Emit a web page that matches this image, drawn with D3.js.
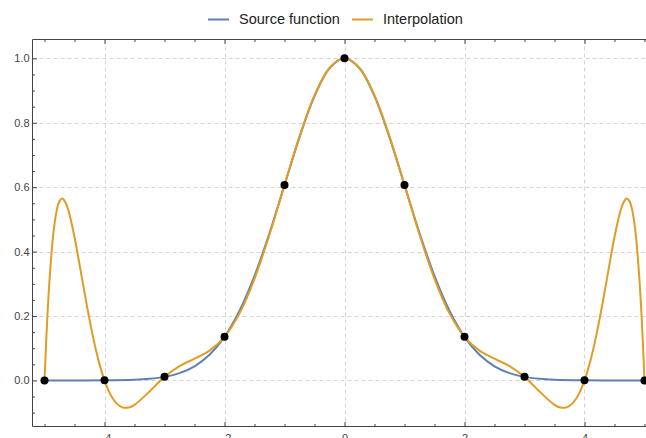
<!DOCTYPE html>
<html>
<head>
<meta charset="utf-8">
<script src="https://cdn.jsdelivr.net/npm/d3@7"></script>
<style>
  body { margin: 0; background: #fff; }
  svg { display: block; font-family: "Liberation Sans", Arial, sans-serif; }
</style>
</head>
<body>
<script>
// series names
var seriesNames = ["Source function", "Interpolation"];
var seriesColors = ["#5e81b5", "#e19c24"];

// source function
var sourceX = [-5, -4.5, -4, -3.5, -3.25, -3, -2.75, -2.5, -2.25, -2, -1.75, -1.5, -1.25, -1, -0.75, -0.5, -0.25,
               0, 0.25, 0.5, 0.75, 1, 1.25, 1.5, 1.75, 2, 2.25, 2.5, 2.75, 3, 3.25, 3.5, 4, 4.5, 5];
var sourceY = [0.0000, 0.0000, 0.0003, 0.0022, 0.0051, 0.0111, 0.0228, 0.0439, 0.0796, 0.1353, 0.2163, 0.3247, 0.4578, 0.6065, 0.7548, 0.8825, 0.9692,
               1.0000, 0.9692, 0.8825, 0.7548, 0.6065, 0.4578, 0.3247, 0.2163, 0.1353, 0.0796, 0.0439, 0.0228, 0.0111, 0.0051, 0.0022, 0.0003, 0.0000, 0.0000];

// interpolation curve
var interpX = [-5, -4.95, -4.9, -4.85, -4.8, -4.75, -4.7, -4.65, -4.6, -4.5, -4.4, -4.3, -4.2, -4.1, -4, -3.9, -3.8, -3.7, -3.6, -3.5, -3.25,
               -3, -2.75, -2.5, -2.25, -2, -1.75, -1.5, -1.25, -1, -0.75, -0.5, -0.25,
               0, 0.25, 0.5, 0.75, 1, 1.25, 1.5, 1.75, 2, 2.25, 2.5, 2.75, 3,
               3.25, 3.5, 3.6, 3.7, 3.8, 3.9, 4, 4.1, 4.2, 4.3, 4.4, 4.5, 4.6, 4.65, 4.7, 4.75, 4.8, 4.85, 4.9, 4.95, 5];
var interpY = [0, 0.2062, 0.3543, 0.4602, 0.5242, 0.5568, 0.5652, 0.5524, 0.5272, 0.4452, 0.3433, 0.2387, 0.1431, 0.0623, 0.0003, -0.0440, -0.0711, -0.0836, -0.0842, -0.0757, -0.0343,
               0.0111, 0.0445, 0.0675, 0.0925, 0.1353, 0.2082, 0.3156, 0.4529, 0.6065, 0.7576, 0.8850, 0.9701,
               1.0000, 0.9701, 0.8850, 0.7576, 0.6065, 0.4529, 0.3156, 0.2082, 0.1353, 0.0925, 0.0675, 0.0445, 0.0111,
               -0.0343, -0.0757, -0.0842, -0.0836, -0.0711, -0.0440, 0.0003, 0.0623, 0.1431, 0.2387, 0.3433, 0.4452, 0.5272, 0.5524, 0.5652, 0.5568, 0.5242, 0.4602, 0.3543, 0.2062, 0];

// sample points
var nodeX = [-5, -4, -3, -2, -1, 0, 1, 2, 3, 4, 5];
var nodeY = [0.0000, 0.0003, 0.0111, 0.1353, 0.6065, 1.0000, 0.6065, 0.1353, 0.0111, 0.0003, 0.0000];

// tick labels
var xTickLabels = [-4, -2, 0, 2, 4];
var yTickLabels = [0, 0.2, 0.4, 0.6, 0.8, 1.0];

var width = 646, height = 438;
var plotLeft = 32.5, plotRight = 656.5, plotTop = 39.5, plotBottom = 426.5;

var svg = d3.select("body").append("svg").attr("width", width).attr("height", height);

var x = d3.scaleLinear().domain([-5.2, 5.2]).range([plotLeft, plotRight]);
var y = d3.scaleLinear().domain([-0.143, 1.0585]).range([plotBottom, plotTop]);

// grid
var grid = svg.append("g").attr("stroke", "#d4d4d4").attr("stroke-dasharray", "4,3");
grid.selectAll("line.gx").data(xTickLabels).enter().append("line")
    .attr("x1", function(d) { return Math.round(x(d)) + 0.5; })
    .attr("x2", function(d) { return Math.round(x(d)) + 0.5; })
    .attr("y1", plotTop).attr("y2", plotBottom);
grid.selectAll("line.gy").data(yTickLabels).enter().append("line")
    .attr("y1", function(d) { return Math.round(y(d)) + 0.5; })
    .attr("y2", function(d) { return Math.round(y(d)) + 0.5; })
    .attr("x1", plotLeft).attr("x2", plotRight);

// curves
svg.append("clipPath").attr("id", "plot").append("rect")
    .attr("x", plotLeft).attr("y", plotTop).attr("width", plotRight - plotLeft).attr("height", plotBottom - plotTop);

var line = d3.line()
    .x(function(d) { return x(d[0]); })
    .y(function(d) { return y(d[1]); })
    .curve(d3.curveCatmullRom.alpha(0.5));

var plot = svg.append("g").attr("clip-path", "url(#plot)");
plot.append("path")
    .attr("fill", "none").attr("stroke", seriesColors[0]).attr("stroke-width", 2)
    .attr("d", line(d3.zip(sourceX, sourceY)));
plot.append("path")
    .attr("fill", "none").attr("stroke", seriesColors[1]).attr("stroke-width", 2)
    .attr("d", line(d3.zip(interpX, interpY)));

plot.selectAll("circle").data(d3.zip(nodeX, nodeY)).enter().append("circle")
    .attr("cx", function(d) { return x(d[0]); })
    .attr("cy", function(d) { return y(d[1]); })
    .attr("r", 4)
    .attr("fill", "#000");

// axes
function styleAxis(g) {
  g.select(".domain").remove();
  g.selectAll(".tick line").attr("stroke", "#444");
  g.selectAll(".tick text").attr("fill", "#444").attr("font-size", 11);
}

var xMinor = d3.range(-5, 5.01, 0.5).filter(function(v) { return v % 2 !== 0; });
var yMinor = d3.range(-0.1, 1.01, 0.05).filter(function(v) { return Math.abs(v * 5 - Math.round(v * 5)) > 0.01; });

svg.append("g").attr("transform", "translate(0," + plotBottom + ")")
    .call(d3.axisBottom(x).tickValues(xMinor).tickSize(-2.5).tickFormat(""))
    .call(styleAxis);
svg.append("g").attr("transform", "translate(0," + plotBottom + ")")
    .call(d3.axisBottom(x).tickValues(xTickLabels).tickSize(-4.5).tickPadding(8)
      .tickFormat(function(d) { return d < 0 ? "\u2212" + Math.abs(d) : d; }))
    .call(styleAxis);

svg.append("g").attr("transform", "translate(0," + plotTop + ")")
    .call(d3.axisTop(x).tickValues(xMinor).tickSize(-2.5).tickFormat(""))
    .call(styleAxis);
svg.append("g").attr("transform", "translate(0," + plotTop + ")")
    .call(d3.axisTop(x).tickValues(xTickLabels).tickSize(-4.5).tickFormat(""))
    .call(styleAxis);

svg.append("g").attr("transform", "translate(" + plotLeft + ",0)")
    .call(d3.axisLeft(y).tickValues(yMinor).tickSize(-2.5).tickFormat(""))
    .call(styleAxis);
svg.append("g").attr("transform", "translate(" + plotLeft + ",0)")
    .call(d3.axisLeft(y).tickValues(yTickLabels).tickSize(-4.5).tickPadding(3).tickFormat(d3.format(".1f")))
    .call(styleAxis);

// frame
svg.append("path")
    .attr("fill", "none").attr("stroke", "#444").attr("stroke-width", 1)
    .attr("d", "M" + plotRight + "," + plotTop + "H" + plotLeft + "V" + plotBottom + "H" + plotRight);

// legend
var legendX = [208, 352];
var legend = svg.append("g");
seriesNames.forEach(function(name, i) {
  legend.append("line")
      .attr("x1", legendX[i]).attr("x2", legendX[i] + 21)
      .attr("y1", 19.5).attr("y2", 19.5)
      .attr("stroke", seriesColors[i]).attr("stroke-width", 2);
  legend.append("text")
      .attr("x", legendX[i] + 31).attr("y", 24.3)
      .attr("font-size", 14.5).attr("fill", "#222")
      .text(name);
});
</script>
</body>
</html>
